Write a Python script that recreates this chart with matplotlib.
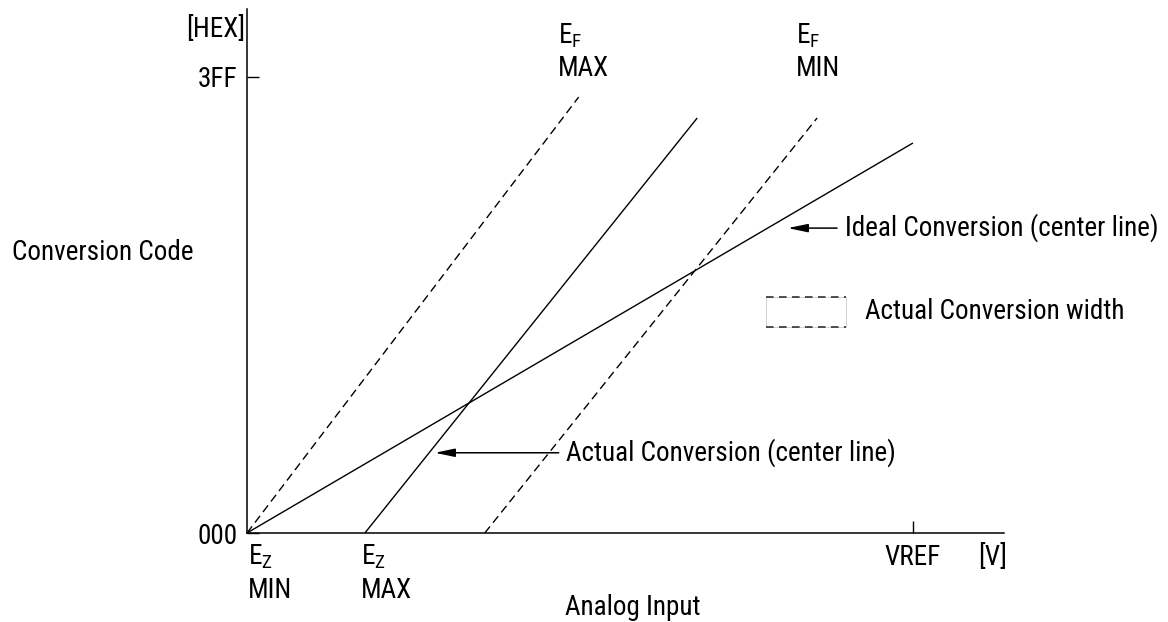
import matplotlib
matplotlib.use("Agg")
import matplotlib.pyplot as plt
from matplotlib import font_manager
from matplotlib.patches import Rectangle

names = {f.name for f in font_manager.fontManager.ttflist}
font = "Roboto Condensed" if "Roboto Condensed" in names else "Roboto"
plt.rcParams["font.family"] = [font, "DejaVu Sans"]
plt.rcParams["mathtext.fontset"] = "custom"
plt.rcParams["mathtext.rm"] = font
plt.rcParams["mathtext.it"] = font

# analog input in units of VREF, conversion code 000..3FF
vref = 1.0
code_max = 0x3FF
ez_min = 0.0
ez_max = 0.177

ideal_x = [0.0, 1.0]
ideal_y = [0, 875]
actual_x = [ez_max, 0.676]
actual_y = [0, 931]
ef_max_x = [ez_min, 0.498]
ef_max_y = [0, 978]
ef_min_x = [0.357, 0.856]
ef_min_y = [0, 931]

FS = 19.5
lw = 1.0
dash = (6, 3.5)

fig = plt.figure(figsize=(11.68, 6.22), dpi=100)
ax = fig.add_axes([247 / 1168, (622 - 533) / 622, (1004 - 247) / 1168, (533 - 9) / 622])
ax.set_xlim(0, 757 / 666)
ax.set_ylim(0, 524 / 456 * code_max)

for s in ["top", "right"]:
    ax.spines[s].set_visible(False)
for s in ["left", "bottom"]:
    ax.spines[s].set_linewidth(1.1)

ax.set_yticks([0, code_max], ["000", "3FF"])
ax.set_xticks([vref], ["VREF"])
ax.tick_params(axis="y", direction="in", length=8.6, width=1.0, pad=7, labelsize=FS)
ax.tick_params(axis="x", direction="in", length=8.6, width=1.0, pad=8, labelsize=FS)

ax.plot(ideal_x, ideal_y, color="black", lw=lw, solid_capstyle="butt")
ax.plot(actual_x, actual_y, color="black", lw=lw, solid_capstyle="butt")
ax.plot(ef_max_x, ef_max_y, color="black", lw=lw, dashes=dash)
ax.plot(ef_min_x, ef_min_y, color="black", lw=lw, dashes=dash)


def e_label(x, y, sub, word, dx, dy_e, dy_w):
    ax.annotate(r"$\mathregular{E_%s}$" % sub, xy=(x, y), xytext=(dx, dy_e),
                textcoords="offset points", fontsize=FS, va="baseline", ha="left",
                annotation_clip=False)
    ax.annotate(word, xy=(x, y), xytext=(dx, dy_w), textcoords="offset points",
                fontsize=FS, va="baseline", ha="left", annotation_clip=False)


e_label(ez_min, 0, "Z", "MIN", 0.7, -23, -46.8)
e_label(ez_max, 0, "Z", "MAX", -3, -23, -46.8)
e_label(ef_max_x[1], code_max, "F", "MAX", -15, 23.8, 0.7)
e_label(ef_min_x[1], code_max, "F", "MIN", -15.5, 23.8, 0.7)

ax.annotate("[V]", xy=(1.098, 0), xytext=(0, -23), textcoords="offset points",
            fontsize=FS, va="baseline", ha="left", annotation_clip=False)
ax.annotate("[HEX]", xy=(0, 1), xycoords="axes fraction", xytext=(-1.5, -20),
            textcoords="offset points", fontsize=FS, va="baseline", ha="right",
            annotation_clip=False)
fig.text(12 / 1168, 1 - 260 / 622, "Conversion Code", fontsize=FS, va="baseline", ha="left")
fig.text(565 / 1168, 1 - 615 / 622, "Analog Input", fontsize=FS, va="baseline", ha="left")

arrow = dict(arrowstyle="-|>,head_length=1.2,head_width=0.25", color="black",
             lw=1.1, mutation_scale=10, shrinkA=0, shrinkB=0)
ax.annotate("", xy=(0.812, 684), xytext=(0.886, 684), arrowprops=arrow)
ax.text(0.898, 684, "Ideal Conversion (center line)", fontsize=FS, va="center", ha="left")
ax.annotate("", xy=(0.282, 180), xytext=(0.468, 180), arrowprops=arrow)
ax.text(0.479, 180, "Actual Conversion (center line)", fontsize=FS, va="center", ha="left")

# legend for the dashed lines
ax.add_patch(Rectangle((0.779, 462), 0.12, 67.5, fill=False, edgecolor="#cccccc", lw=0.6))
ax.plot([0.779, 0.899], [529.5, 529.5], color="#222222", lw=1.1, dashes=(5, 3.5))
ax.plot([0.779, 0.899], [462, 462], color="#222222", lw=1.1, dashes=(5, 3.5))
ax.text(0.928, 496, "Actual Conversion width", fontsize=FS, va="center", ha="left")

fig.savefig("out.png", dpi=100)
